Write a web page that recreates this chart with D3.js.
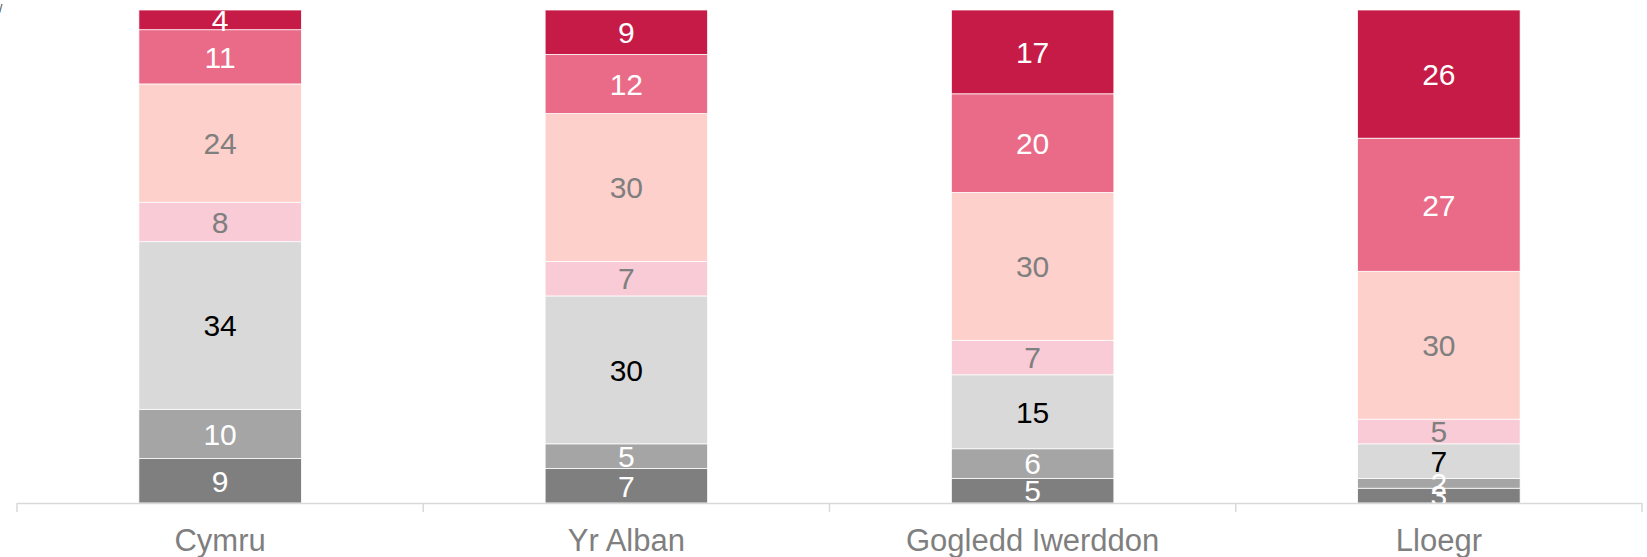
<!DOCTYPE html>
<html lang="cy">
<head>
<meta charset="utf-8" />
<title>Stacked bars</title>
<style>
html, body {
  margin: 0;
  padding: 0;
  background: #fff;
}
svg text {
  font-family: Arial, "Liberation Sans", sans-serif;
}
</style>
</head>
<body>
<div id="chart"></div>
<script src="https://cdn.jsdelivr.net/npm/d3@7"></script>
<script>
// categories and series (bottom to top)
var categories = ["Cymru", "Yr Alban", "Gogledd Iwerddon", "Lloegr"];
var s1 = [9, 7, 5, 3];
var s2 = [10, 5, 6, 2];
var s3 = [34, 30, 15, 7];
var s4 = [8, 7, 7, 5];
var s5 = [24, 30, 30, 30];
var s6 = [11, 12, 20, 27];
var s7 = [4, 9, 17, 26];

var series = [s1, s2, s3, s4, s5, s6, s7];
var fills = ["#7f7f7f", "#a5a5a5", "#d9d9d9", "#f8cbd6", "#fdd0cb", "#ea6b88", "#c61b46"];
var labelColours = ["#fff", "#fff", "#000", "#7f7f7f", "#7f7f7f", "#fff", "#fff"];

var W = 1647, H = 557;
var margin = {top: 10, right: 5, bottom: 54, left: 17};

var svg = d3.select("#chart").append("svg")
  .attr("width", W)
  .attr("height", H);

// leftover fragment in the corner of the original
svg.append("text")
  .attr("x", -1).attr("y", 13)
  .attr("font-size", 12)
  .attr("fill", "#404040")
  .text("/");

var x = d3.scaleBand()
  .domain(categories)
  .range([margin.left, W - margin.right])
  .paddingInner(0.6)
  .paddingOuter(0.3);

var y = d3.scaleLinear()
  .domain([0, 100])
  .range([H - margin.bottom, margin.top]);

// table for d3.stack
var rows = categories.map(function(c, i) {
  var r = {cat: c};
  series.forEach(function(s, k) { r["k" + k] = s[i]; });
  return r;
});
var keys = series.map(function(s, k) { return "k" + k; });
var stacked = d3.stack().keys(keys)(rows);

svg.append("clipPath").attr("id", "plot")
  .append("rect")
  .attr("x", margin.left).attr("y", margin.top)
  .attr("width", W - margin.left - margin.right)
  .attr("height", H - margin.top - margin.bottom);

var layers = svg.append("g").selectAll("g")
  .data(stacked)
  .enter().append("g")
  .attr("fill", function(d, k) { return fills[k]; });

layers.selectAll("rect")
  .data(function(d) { return d; })
  .enter().append("rect")
  .attr("x", function(d) { return x(d.data.cat); })
  .attr("width", x.bandwidth())
  .attr("y", function(d) { return y(d[1]); })
  .attr("height", function(d) { return y(d[0]) - y(d[1]); })
  .attr("stroke", "#fff")
  .attr("stroke-width", 0.75);

// value labels
var lab = svg.append("g").attr("clip-path", "url(#plot)");
stacked.forEach(function(layer, k) {
  lab.selectAll(null)
    .data(layer)
    .enter().append("text")
    .attr("x", function(d) { return x(d.data.cat) + x.bandwidth() / 2; })
    .attr("y", function(d) { return (y(d[0]) + y(d[1])) / 2; })
    .attr("dy", "0.36em")
    .attr("text-anchor", "middle")
    .attr("font-size", 30)
    .attr("fill", labelColours[k])
    .text(function(d) { return d[1] - d[0]; });
});

// x axis with ticks between categories
var base = y(0);
var ax = svg.append("g");
ax.append("line")
  .attr("x1", margin.left).attr("x2", W - margin.right)
  .attr("y1", base + 0.5).attr("y2", base + 0.5)
  .attr("stroke", "#d9d9d9").attr("stroke-width", 1.5);

var bounds = d3.range(categories.length + 1).map(function(i) {
  return margin.left + i * (W - margin.left - margin.right) / categories.length;
});
ax.selectAll(".tick")
  .data(bounds)
  .enter().append("line")
  .attr("x1", function(d) { return d; }).attr("x2", function(d) { return d; })
  .attr("y1", base).attr("y2", base + 9)
  .attr("stroke", "#d9d9d9").attr("stroke-width", 1.5);

ax.selectAll(".cat")
  .data(categories)
  .enter().append("text")
  .attr("x", function(d) { return x(d) + x.bandwidth() / 2; })
  .attr("y", 551)
  .attr("text-anchor", "middle")
  .attr("font-size", 31)
  .attr("fill", "#7f7f7f")
  .text(function(d) { return d; });
</script>
</body>
</html>
